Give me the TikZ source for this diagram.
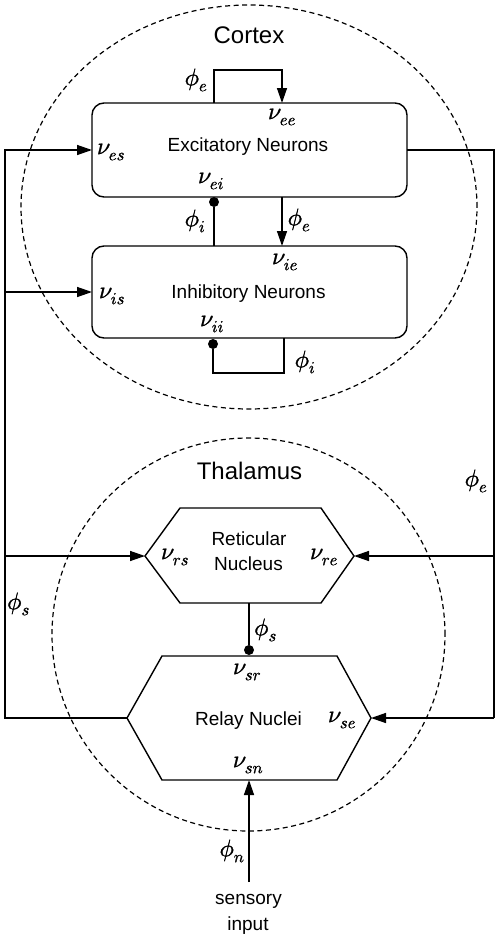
\documentclass[tikz,border=0pt]{standalone}
\usepackage{fontspec}
\usepackage{unicode-math}
\setmainfont{Liberation Sans}
\setmathfont{Latin Modern Math}[FakeBold=1.2]
\usetikzlibrary{arrows.meta,shapes.geometric}
\newcommand\txtfont{\fontsize{19}{22}\selectfont}
\newcommand\ttlfont{\fontsize{24}{28}\selectfont}
\newcommand\mthfont{\fontsize{24}{27}\selectfont}
\tikzset{
  ln/.style={line width=1.4pt, line join=miter},
  arr/.style={ln, -{Triangle[length=15pt,width=10pt]}},
  box/.style={draw, line width=1.4pt, rounded corners=12pt, minimum width=315pt, inner sep=0pt, outer sep=0pt},
  dotn/.style={circle, fill, inner sep=0pt, minimum size=10pt},
  region/.style={draw, ellipse, dashed, dash pattern=on 5pt off 3.5pt, line width=1.2pt, inner sep=0pt},
  txt/.style={inner sep=0pt, font=\txtfont, align=center},
  ttl/.style={inner sep=0pt, font=\ttlfont},
  mth/.style={inner sep=0pt, font=\mthfont},
}
\begin{document}
\begin{tikzpicture}[x=1pt,y=-1pt]
\useasboundingbox (0,0) rectangle (498,937);
% regions
\node[region, minimum width=456pt, minimum height=404pt] (cortex) at (249,207) {};
\node[region, minimum width=393pt, minimum height=393pt] (thal) at (248.5,634.5) {};
\node[ttl] (cortexlbl) at (249,35) {Cortex};
\node[ttl] (thallbl) at (249.5,471) {Thalamus};
% cortex boxes
\node[box, minimum height=94pt] (exc) at (249.5,150) {};
\node[box, minimum height=92pt] (inh) at (249.5,292) {};
\node[txt] (exct) at (248,147) {Excitatory Neurons};
\node[txt] (inht) at (248.5,294) {Inhibitory Neurons};
% thalamus hexagons
\coordinate (retW) at (145,556);
\coordinate (retE) at (354,556);
\coordinate (retS) at (249,603);
\coordinate (relW) at (127,718);
\coordinate (relE) at (371,718);
\coordinate (relS) at (249,780);
\draw[ln] (180,508) -- (321,508) -- (retE) -- (321,603) -- (180,603) -- (retW) -- cycle;
\draw[ln] (162,656) -- (337,656) -- (relE) -- (337,780) -- (162,780) -- (relW) -- cycle;
\node[txt] (rett1) at (249,539) {Reticular};
\node[txt] (rett2) at (248.5,564) {Nucleus};
\node[txt] (relt) at (248.5,721) {Relay Nuclei};
% dots
\node[dotn] (d1) at (214,202) {};
\node[dotn] (d2) at (213,344) {};
\node[dotn] (d3) at (249,650) {};
% cortex connections
\draw[arr] (214,0 |- exc.north) -- (214,70) -- (282,70) -- (282,0 |- exc.north);
\draw[ln] (214,0 |- inh.north) -- (d1);
\draw[arr] (282,0 |- exc.south) -- (282,0 |- inh.north);
\draw[ln] (284,0 |- inh.south) -- (284,373) -- (213,373) -- (d2);
% long feedback lines
\coordinate (lb) at (5,718);
\coordinate (rb) at (494,718);
\draw[arr] (relW) -- (lb) -- (5,0 |- exc.west) -- (exc.west);
\draw[arr] (5,0 |- inh.west) -- (inh.west);
\draw[arr] (5,0 |- retW) -- (retW);
\draw[ln] (exc.east) -| (rb);
\draw[arr] (rb) -- (relE);
\draw[arr] (494,0 |- retE) -- (retE);
\draw[ln] (retS) -- (d3);
\coordinate (inp) at (249,882);
\draw[arr] (inp) -- (relS);
\node[txt] (sens) at (248.5,901) {sensory};
\node[txt] (inpt) at (248,926) {input};
% math labels
\node[mth] at (196,80) {$\phi_e$};
\node[mth] at (282,117) {$\nu_{ee}$};
\node[mth] at (111,152) {$\nu_{es}$};
\node[mth] at (211,181) {$\nu_{ei}$};
\node[mth] at (195,221) {$\phi_i$};
\node[mth] at (299,220) {$\phi_e$};
\node[mth] at (285,262) {$\nu_{ie}$};
\node[mth] at (112,296) {$\nu_{is}$};
\node[mth] at (212,324) {$\nu_{ii}$};
\node[mth] at (305,362) {$\phi_i$};
\node[mth] at (476,481) {$\phi_e$};
\node[mth] at (175,557) {$\nu_{rs}$};
\node[mth] at (324,557) {$\nu_{re}$};
\node[mth] at (18.5,604) {$\phi_s$};
\node[mth] at (265.5,630) {$\phi_s$};
\node[mth] at (247,672) {$\nu_{sr}$};
\node[mth] at (342,720) {$\nu_{se}$};
\node[mth] at (248,765) {$\nu_{sn}$};
\node[mth] at (232,851) {$\phi_n$};
\end{tikzpicture}
\end{document}
